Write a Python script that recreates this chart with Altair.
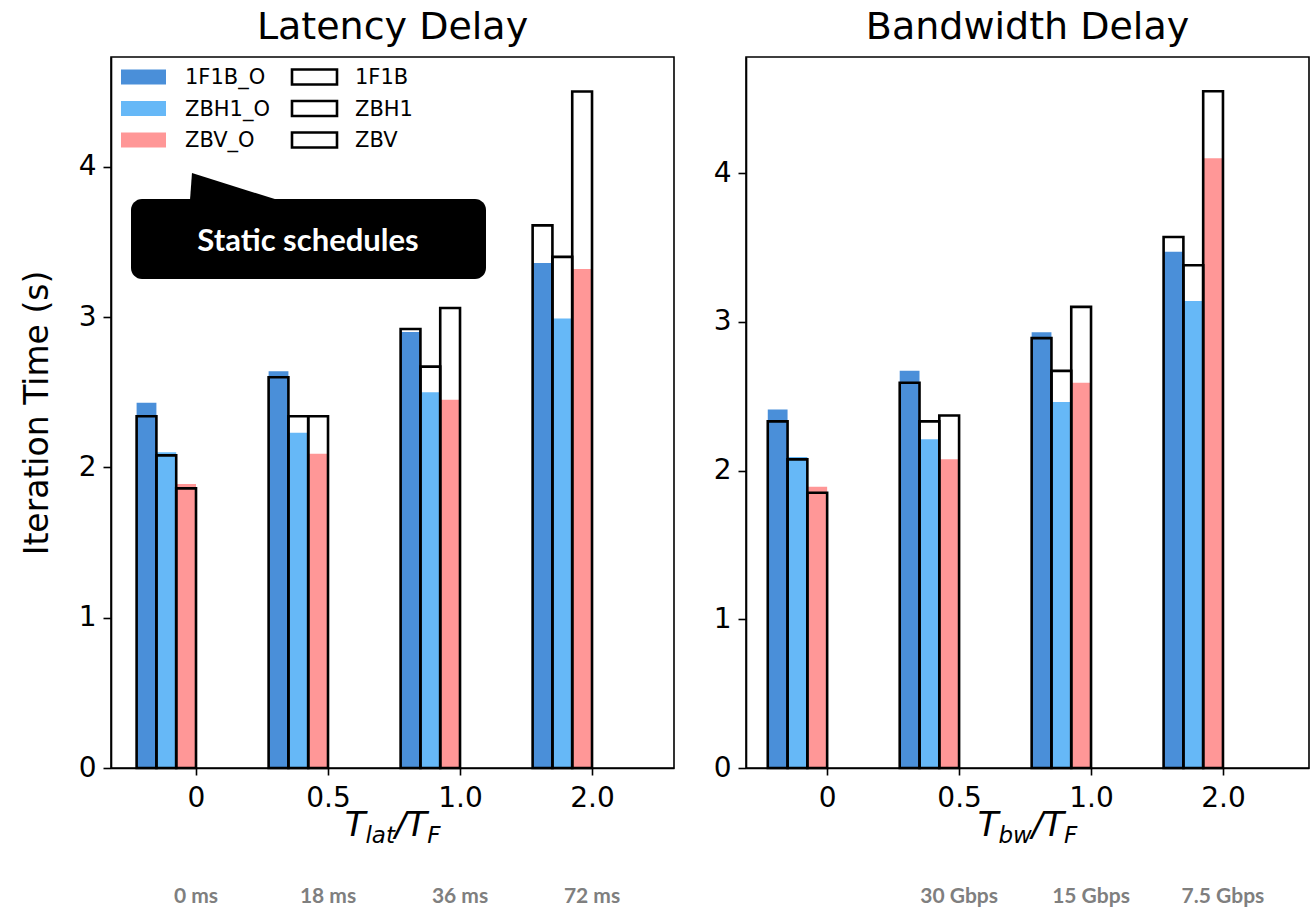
import altair as alt
import pandas as pd

# ---------------- data ----------------
groups = [0, 1, 2, 3]
xtick_labels = ["0", "0.5", "1.0", "2.0"]
series_static = ["1F1B", "ZBH1", "ZBV"]
series_opt = ["1F1B_O", "ZBH1_O", "ZBV_O"]
colors_opt = ["#4a8fd9", "#66b8f7", "#ff9797"]

# Latency delay panel
lat_1f1b = [2.34, 2.60, 2.92, 3.61]
lat_zbh1 = [2.08, 2.34, 2.67, 3.40]
lat_zbv = [1.86, 2.34, 3.06, 4.50]
lat_1f1b_o = [2.43, 2.64, 2.90, 3.36]
lat_zbh1_o = [2.10, 2.23, 2.50, 2.99]
lat_zbv_o = [1.89, 2.09, 2.45, 3.32]

# Bandwidth delay panel
bw_1f1b = [2.33, 2.59, 2.89, 3.57]
bw_zbh1 = [2.075, 2.33, 2.67, 3.38]
bw_zbv = [1.85, 2.37, 3.10, 4.55]
bw_1f1b_o = [2.41, 2.67, 2.93, 3.47]
bw_zbh1_o = [2.09, 2.21, 2.46, 3.14]
bw_zbv_o = [1.89, 2.075, 2.59, 4.10]

lat_units = ["0 ms", "18 ms", "36 ms", "72 ms"]
lat_unit_groups = [0, 1, 2, 3]
bw_units = ["30 Gbps", "15 Gbps", "7.5 Gbps"]
bw_unit_groups = [1, 2, 3]

W, H = 563, 711
FONT = "DejaVu Sans"


def long_table(names, lists):
    rows = []
    for k, (name, vals) in enumerate(zip(names, lists)):
        for g, v in zip(groups, vals):
            rows.append({"g": g, "k": k, "name": name, "value": v})
    return pd.DataFrame(rows)


def panel(title, static_lists, opt_lists, xdom, ymax, sub, units, unit_groups,
          show_ytitle, show_extras):
    xs = alt.Scale(domain=xdom, nice=False, zero=False)
    ys = alt.Scale(domain=[0, ymax], nice=False)
    xaxis = alt.Axis(values=groups, title=None, grid=False, labelPadding=9,
                     labelExpr="['0','0.5','1.0','2.0'][datum.value]")
    yaxis = alt.Axis(values=[0, 1, 2, 3, 4], format="d", grid=False, labelPadding=7,
                     tickSize=8, titlePadding=24,
                     title="Iteration Time (s)" if show_ytitle else None)

    opt_df = long_table(series_opt, opt_lists)
    st_df = long_table(series_static, static_lists)

    base_calc = dict(x0="datum.g - 0.45 + 0.15*datum.k",
                     x1="datum.g - 0.30 + 0.15*datum.k")

    fill = alt.Chart(opt_df).transform_calculate(**base_calc).mark_rect().encode(
        x=alt.X("x0:Q", scale=xs, axis=xaxis),
        x2="x1:Q",
        y=alt.Y("value:Q", scale=ys, axis=yaxis),
        y2=alt.datum(0),
        color=alt.Color("name:N", scale=alt.Scale(domain=series_opt, range=colors_opt),
                        legend=None),
    )
    outline = alt.Chart(st_df).transform_calculate(**base_calc).mark_rect(
        fillOpacity=0, stroke="black", strokeWidth=2.6
    ).encode(
        x=alt.X("x0:Q", scale=xs, axis=xaxis),
        x2="x1:Q",
        y=alt.Y("value:Q", scale=ys, axis=yaxis),
        y2=alt.datum(0),
    )

    layers = [fill, outline]

    # unit annotations below the axis
    udf = pd.DataFrame({"g": unit_groups, "label": units})
    layers.append(
        alt.Chart(udf).mark_text(font="Lato", fontWeight="bold", fontSize=21,
                                 color="#7f7f7f", baseline="middle").encode(
            x=alt.X("g:Q", scale=xs), y=alt.value(H + 129), text="label:N")
    )

    # axis title T_x / T_F built from pieces
    big, small = 34, 23
    wT, wslash, wF = 0.611 * big, 0.337 * big, 0.575 * small
    wsub = {"lat": 1.283 * small, "bw": 1.453 * small}[sub]
    total = wT + wsub + wslash + wT + wF
    x = W / 2 - total / 2
    base_y = H + 68
    pieces = [("T", big, 0), (sub, small, 7), ("/", big, 0), ("T", big, 0), ("F", small, 7)]
    widths = [wT, wsub, wslash, wT, wF]
    for (txt, fs, dy), w in zip(pieces, widths):
        layers.append(
            alt.Chart(pd.DataFrame({"t": [txt]})).mark_text(
                font=FONT, fontStyle="italic", fontSize=fs, align="left",
                baseline="alphabetic", color="black").encode(
                x=alt.value(x), y=alt.value(base_y + dy), text="t:N")
        )
        x += w

    if show_extras:
        # legend (two columns)
        for i, (name, col) in enumerate(zip(series_opt, colors_opt)):
            yc = 20 + 31.5 * i
            layers.append(
                alt.Chart(pd.DataFrame({"n": [name]})).mark_rect(color=col).encode(
                    x=alt.value(10), x2=alt.value(55),
                    y=alt.value(yc - 7.5), y2=alt.value(yc + 7.5))
            )
            layers.append(
                alt.Chart(pd.DataFrame({"n": [name]})).mark_text(
                    font=FONT, fontSize=21, align="left", baseline="middle",
                    color="black").encode(
                    x=alt.value(74), y=alt.value(yc + 1), text="n:N")
            )
        for i, name in enumerate(series_static):
            yc = 20 + 31.5 * i
            layers.append(
                alt.Chart(pd.DataFrame({"n": [name]})).mark_rect(
                    fillOpacity=0, stroke="black", strokeWidth=2.6).encode(
                    x=alt.value(181), x2=alt.value(226),
                    y=alt.value(yc - 7.5), y2=alt.value(yc + 7.5))
            )
            layers.append(
                alt.Chart(pd.DataFrame({"n": [name]})).mark_text(
                    font=FONT, fontSize=21, align="left", baseline="middle",
                    color="black").encode(
                    x=alt.value(244), y=alt.value(yc + 1), text="n:N")
            )
        # callout
        one = pd.DataFrame({"t": ["Static schedules"]})
        layers.append(
            alt.Chart(one).mark_point(
                shape="M -1 0.32 L -0.955 -0.295 L 1 0.32 Z",
                filled=True, color="black", opacity=1, size=7744, strokeWidth=0).encode(
                x=alt.value(123), y=alt.value(129))
        )
        layers.append(
            alt.Chart(one).mark_rect(color="black", cornerRadius=11).encode(
                x=alt.value(20), x2=alt.value(375), y=alt.value(142), y2=alt.value(222))
        )
        layers.append(
            alt.Chart(one).mark_text(font="Lato", fontWeight="bold", fontSize=31,
                                     color="white", baseline="middle").encode(
                x=alt.value(197), y=alt.value(185), text="t:N")
        )

    return alt.layer(*layers).properties(
        width=W, height=H,
        title=alt.TitleParams(title, fontSize=38, font=FONT, fontWeight="normal",
                              color="black", offset=10),
    )


left = panel("Latency Delay",
             [lat_1f1b, lat_zbh1, lat_zbv], [lat_1f1b_o, lat_zbh1_o, lat_zbv_o],
             [-0.644, 3.621], 4.73, "lat", lat_units, lat_unit_groups, True, True)
right = panel("Bandwidth Delay",
              [bw_1f1b, bw_zbh1, bw_zbv], [bw_1f1b_o, bw_zbh1_o, bw_zbv_o],
              [-0.615, 3.652], 4.78, "bw", bw_units, bw_unit_groups, False, False)

chart = alt.hconcat(left, right, spacing=37).properties(
    padding={"left": 20, "top": 8, "right": 0, "bottom": 0},
    background="white",
).configure_view(stroke="black", strokeWidth=1.6).configure_axis(
    labelFont=FONT, labelFontSize=28, labelColor="black", tickColor="black",
    domainColor="black", tickSize=7, tickWidth=1.6, domainWidth=1.6, grid=False,
    labelPadding=4, titleFont=FONT, titleFontSize=33, titleFontWeight="normal",
    titleColor="black", titlePadding=18,
)

chart.save("out.html", embed_options={"renderer": "svg", "actions": False})
